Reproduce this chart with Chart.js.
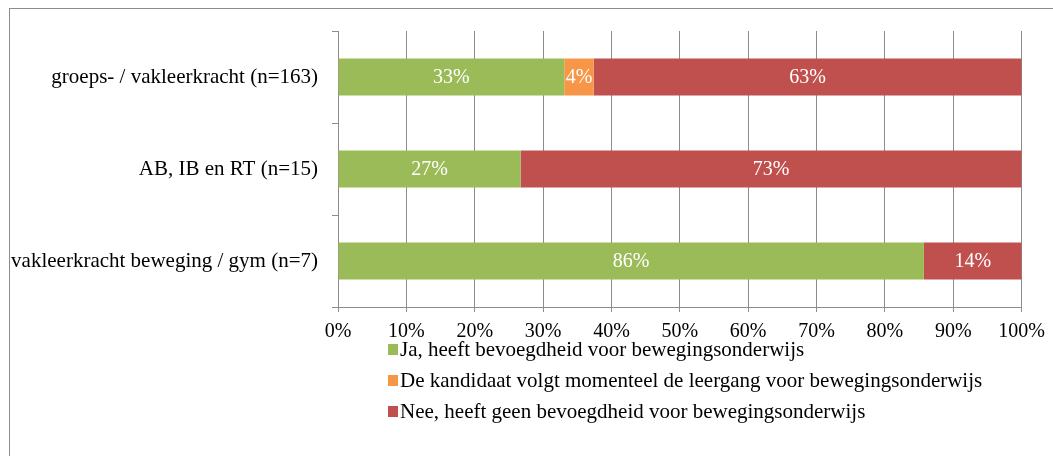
<!DOCTYPE html>
<html>
<head>
<meta charset="utf-8">
<script src="https://cdn.jsdelivr.net/npm/chart.js@4/dist/chart.umd.min.js"></script>
<style>
    html, body { margin: 0; padding: 0; background: #fff; overflow: hidden; }
    #frame { position: absolute; left: 9px; top: 8px; width: 1100px; height: 500px; border: 1px solid #8c8c8c; }
    #wrap { position: absolute; left: 0; top: 0; width: 1053px; height: 456px; }
</style>
</head>
<body>
<div id="frame"></div>
<div id="wrap"><canvas id="chart" width="1053" height="456"></canvas></div>
<script>
const categories = ['groeps- / vakleerkracht (n=163)', 'AB, IB en RT (n=15)', 'vakleerkracht beweging / gym (n=7)'];
const seriesNames = [
    'Ja, heeft bevoegdheid voor bewegingsonderwijs',
    'De kandidaat volgt momenteel de leergang voor bewegingsonderwijs',
    'Nee, heeft geen bevoegdheid voor bewegingsonderwijs'
];
const jaValues = [33.1, 26.7, 85.7];
const kandidaatValues = [4.3, 0, 0];
const neeValues = [62.6, 73.3, 14.3];
const colors = ['#9bbb59', '#f79646', '#c0504d'];

const FONT = "'Liberation Serif', 'Times New Roman', serif";
const GRID = '#8c8c8c';

// white percentage labels in the middle of each segment
const barLabels = {
    id: 'barLabels',
    afterDatasetsDraw(chart) {
        const ctx = chart.ctx;
        ctx.save();
        ctx.font = '20px ' + FONT;
        ctx.fillStyle = '#fff';
        ctx.textAlign = 'center';
        ctx.textBaseline = 'middle';
        chart.data.datasets.forEach((ds, i) => {
            chart.getDatasetMeta(i).data.forEach((bar, j) => {
                const v = ds.data[j];
                if (!v) return;
                ctx.fillText(Math.round(v) + '%', (bar.x + bar.base) / 2, bar.y + 1);
            });
        });
        ctx.restore();
    }
};

// legend as a left aligned list under the axis
const listLegend = {
    id: 'listLegend',
    afterDraw(chart) {
        const ctx = chart.ctx;
        const x = chart.chartArea.left + 50;
        let y = 349;
        ctx.save();
        ctx.font = '21px ' + FONT;
        ctx.textBaseline = 'middle';
        ctx.textAlign = 'left';
        chart.data.datasets.forEach((ds) => {
            ctx.fillStyle = ds.backgroundColor;
            ctx.fillRect(x, y - 5, 10, 11);
            ctx.fillStyle = '#000';
            ctx.fillText(ds.label, x + 12, y + 1);
            y += 31;
        });
        ctx.restore();
    }
};

new Chart(document.getElementById('chart'), {
    type: 'bar',
    data: {
        labels: categories,
        datasets: [
            { label: seriesNames[0], data: jaValues, backgroundColor: colors[0] },
            { label: seriesNames[1], data: kandidaatValues, backgroundColor: colors[1] },
            { label: seriesNames[2], data: neeValues, backgroundColor: colors[2] }
        ]
    },
    options: {
        indexAxis: 'y',
        responsive: false,
        animation: false,
        maintainAspectRatio: false,
        datasets: { bar: { barPercentage: 0.4, categoryPercentage: 1, borderWidth: 0 } },
        layout: { padding: { top: 31, right: 31, bottom: 109, left: 0 } },
        scales: {
            x: {
                stacked: true,
                min: 0,
                max: 100,
                afterFit: (s) => { s.height = 40; },
                ticks: {
                    stepSize: 10,
                    padding: 8,
                    color: '#000',
                    font: { family: FONT, size: 20 },
                    callback: (v) => v + '%'
                },
                grid: { color: GRID, tickLength: 5 },
                border: { color: GRID }
            },
            y: {
                stacked: true,
                afterFit: (s) => { s.width = 338; },
                ticks: {
                    padding: 14,
                    color: '#000',
                    font: { family: FONT, size: 21 }
                },
                grid: { drawOnChartArea: false, color: GRID, tickLength: 6 },
                border: { color: GRID }
            }
        },
        plugins: {
            legend: { display: false },
            tooltip: { enabled: false }
        }
    },
    plugins: [barLabels, listLegend]
});
</script>
</body>
</html>
